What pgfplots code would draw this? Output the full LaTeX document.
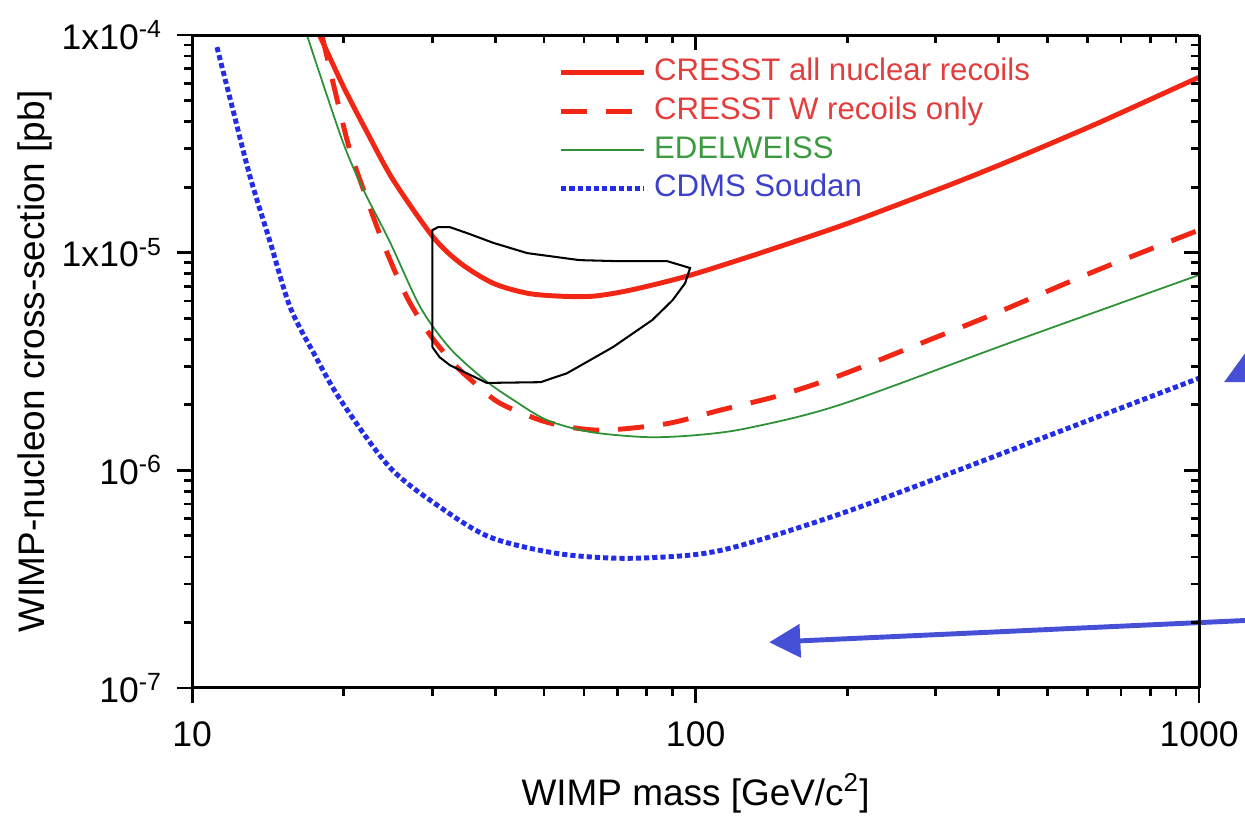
\documentclass[border=0pt]{standalone}
\usepackage{fontspec}
\setmainfont{Liberation Sans}
\usepackage{pgfplots}
\pgfplotsset{compat=1.18}
\usetikzlibrary{arrows.meta}

\definecolor{cresst}{RGB}{242,38,20}
\definecolor{cresstTxt}{RGB}{226,62,62}
\definecolor{edel}{RGB}{45,145,55}
\definecolor{edelTxt}{RGB}{60,155,65}
\definecolor{cdms}{RGB}{35,45,230}
\definecolor{cdmsTxt}{RGB}{60,65,205}
\definecolor{arrowblue}{RGB}{70,80,215}

\begin{document}
\begin{tikzpicture}
\begin{axis}[
  width=12.94cm, height=8.39cm, scale only axis,
  xmode=log, ymode=log,
  xmin=10, xmax=1000, ymin=1e-7, ymax=1e-4,
  axis line style={line width=1.1pt},
  every tick/.style={black, line width=1pt},
  major tick length=0.19cm, minor tick length=0.1cm,
  xtick={10,100,1000}, ytick={1e-7,1e-6,1e-5,1e-4},
  minor xtick={20,30,40,50,60,70,80,90,200,300,400,500,600,700,800,900},
  minor ytick={2e-7,3e-7,4e-7,5e-7,6e-7,7e-7,8e-7,9e-7,2e-6,3e-6,4e-6,5e-6,6e-6,7e-6,8e-6,9e-6,2e-5,3e-5,4e-5,5e-5,6e-5,7e-5,8e-5,9e-5},
  axis x line*=bottom, axis y line*=left,
  tick align=outside,
  clip=false,
  xticklabels={10,100,1000},
  yticklabels={10\textsuperscript{-7},10\textsuperscript{-6},1x10\textsuperscript{-5},1x10\textsuperscript{-4}},
  tick label style={font=\fontsize{13}{15}\selectfont},
  xticklabel style={yshift=-0.12cm},
  yticklabel style={xshift=-0.07cm},
  xlabel={WIMP mass [GeV/c\textsuperscript{2}]},
  ylabel={WIMP-nucleon cross-section [pb]},
  label style={font=\fontsize{13.5}{16}\selectfont},
  xlabel style={at={(axis description cs:0.5,-0.162)}, anchor=center},
  ylabel style={at={(axis description cs:-0.156,0.5)}, anchor=center},
  legend image code/.code={\draw[#1] (0cm,0cm) -- (1.06cm,0cm);},
  legend cell align=left,
  legend style={at={(rel axis cs:0.3635,0.969)}, anchor=north west,
    draw=none, fill=none, inner sep=0pt, row sep=2.2pt, column sep=0.08cm,
    font=\fontsize{11.4}{13}\selectfont,
    nodes={inner sep=0.6pt, text height=8.4pt, text depth=2.4pt}},
]
\coordinate (bl) at (rel axis cs:0,0);
\coordinate (tr) at (rel axis cs:1,1);

% CRESST, all nuclear recoils
\addplot[cresst, line width=1.8pt, smooth] coordinates {
  (17.9,1e-4) (19.95,5.83e-5) (22.3,3.54e-5) (25.1,2.15e-5) (30.1,1.18e-5)
  (34.1,8.95e-6) (39.6,7.24e-6) (46.3,6.51e-6) (53.8,6.31e-6) (62,6.3e-6)
  (70,6.55e-6) (80,7.0e-6) (97.6,7.88e-6) (128,9.6e-6) (160,1.14e-5)
  (200,1.36e-5) (250,1.65e-5) (320,2.05e-5) (400,2.52e-5) (500,3.13e-5)
  (630,3.94e-5) (800,5.06e-5) (1000,6.4e-5)
};
\addlegendentry{\textcolor{cresstTxt}{CRESST all nuclear recoils}}

% CRESST, W recoils only
\addplot[cresst, line width=1.8pt, smooth, dash pattern=on 9.5pt off 7pt] coordinates {
  (18.1,1e-4) (20.3,3.3e-5) (21.9,1.94e-5) (24.17,1.05e-5) (26.7,6.24e-6)
  (29.7,4.18e-6) (33.3,3.04e-6) (36.8,2.46e-6) (40.9,2.03e-6) (49.1,1.70e-6)
  (57,1.57e-6) (66.7,1.53e-6) (88,1.64e-6) (112,1.89e-6) (147,2.21e-6)
  (193.6,2.73e-6) (280,3.83e-6) (397,5.3e-6) (627,8.3e-6) (1000,1.27e-5)
};
\addlegendentry{\textcolor{cresstTxt}{CRESST W recoils only}}

% EDELWEISS
\addplot[edel, line width=0.65pt, smooth] coordinates {
  (16.9,1e-4) (19.86,3.29e-5) (21.9,1.94e-5) (24.7,1.12e-5) (28.4,5.61e-6)
  (32.5,3.64e-6) (38.2,2.59e-6) (43.5,2.1e-6) (50.7,1.7e-6) (61.7,1.5e-6)
  (80,1.42e-6) (100,1.45e-6) (126.5,1.56e-6) (193.6,2.0e-6) (427,3.9e-6)
  (1000,7.9e-6)
};
\addlegendentry{\textcolor{edelTxt}{EDELWEISS}}

% CDMS Soudan
\addplot[cdms, line width=1.8pt, smooth, dash pattern=on 1.9pt off 1.1pt] coordinates {
  (11.2,8.8e-5) (12,4.7e-5) (13.04,2.22e-5) (14.3,1.11e-5) (15.65,5.62e-6)
  (17.5,3.4e-6) (19.72,2.1e-6) (24.7,1.03e-6) (31.1,6.76e-7) (39.1,4.92e-7)
  (53,4.15e-7) (71.8,3.94e-7) (100,4.1e-7) (126.5,4.6e-7) (193.6,6.3e-7)
  (302,9.2e-7) (537,1.53e-6) (1000,2.65e-6)
};
\addlegendentry{\textcolor{cdmsTxt}{CDMS Soudan}}

% allowed region
\addplot[black, line width=0.75pt, forget plot] coordinates {
  (30.0,3.68e-6) (30.0,1.27e-5) (30.8,1.31e-5) (32.5,1.31e-5) (35.5,1.22e-5)
  (39.6,1.11e-5) (46.3,9.95e-6) (58.8,9.24e-6) (70,9.14e-6) (87.8,9.14e-6)
  (97.5,8.5e-6) (95.3,7.24e-6) (90,6.05e-6) (82,4.9e-6) (68.5,3.68e-6)
  (55.5,2.79e-6) (49.2,2.54e-6) (38.5,2.52e-6) (32.5,3.04e-6) (31.0,3.31e-6)
  (30.0,3.68e-6)
};

\draw[arrowblue, line width=1.8pt, -{Triangle[length=0.4cm,width=0.42cm]}]
  (axis cs:1233,2.04e-7) -- (axis cs:140,1.62e-7);
\fill[arrowblue] (axis cs:1121,2.54e-6) -- (axis cs:1262,3.7e-6)
  -- (axis cs:1422,2.54e-6) -- cycle;
\end{axis}

% top and right frame, ticks pointing inwards
\begin{axis}[
  width=12.94cm, height=8.39cm, scale only axis,
  xmode=log, ymode=log,
  xmin=10, xmax=1000, ymin=1e-7, ymax=1e-4,
  axis line style={line width=1.1pt},
  every tick/.style={black, line width=1pt},
  major tick length=0.19cm, minor tick length=0.1cm,
  xtick={10,100,1000}, ytick={1e-7,1e-6,1e-5,1e-4},
  minor xtick={20,30,40,50,60,70,80,90,200,300,400,500,600,700,800,900},
  minor ytick={2e-7,3e-7,4e-7,5e-7,6e-7,7e-7,8e-7,9e-7,2e-6,3e-6,4e-6,5e-6,6e-6,7e-6,8e-6,9e-6,2e-5,3e-5,4e-5,5e-5,6e-5,7e-5,8e-5,9e-5},
  axis x line*=top, axis y line*=right,
  tick align=inside,
  xticklabels={}, yticklabels={},
]
\addplot[draw=none] coordinates {(10,1e-7)};
\end{axis}

\pgfresetboundingbox
\useasboundingbox ([xshift=-2.47cm,yshift=-1.77cm]bl) rectangle ([xshift=0.59cm,yshift=0.45cm]tr);
\end{tikzpicture}
\end{document}
